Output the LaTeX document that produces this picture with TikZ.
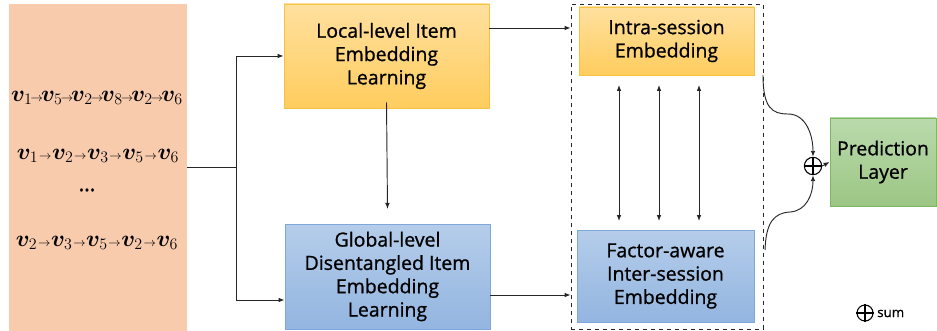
\documentclass[tikz,border=0pt]{standalone}
\usepackage{fontspec}
\usepackage{bm}
\setmainfont{Open Sans}[FakeBold=0.8]
\newfontfamily\labfont{Open Sans}[AutoFakeBold=0.9]
\usetikzlibrary{arrows.meta,shapes.geometric}
\newcommand{\sar}{\mskip0.5mu{\scriptscriptstyle\rightarrow}\mskip0.5mu}
\newcommand{\tar}{\mskip-1.5mu{\scriptscriptstyle\rightarrow}\mskip-1.5mu}
\definecolor{seqfill}{HTML}{F8CBAD}
\definecolor{orT}{HTML}{FFE09F}
\definecolor{orB}{HTML}{FFCD5E}
\definecolor{orD}{HTML}{F5C242}
\definecolor{blT}{HTML}{B5CDEA}
\definecolor{blB}{HTML}{93B5E0}
\definecolor{blD}{HTML}{7FA7DB}
\definecolor{grT}{HTML}{BADAAD}
\definecolor{grB}{HTML}{9CC684}
\definecolor{grD}{HTML}{7DB861}
\tikzset{
  box/.style={inner sep=0pt, align=center, font=\labfont\bfseries\fontsize{14.6}{17.5}\selectfont, text=black},
  orbox/.style={box, draw=orD, line width=0.6pt, top color=orT, bottom color=orB},
  blbox/.style={box, draw=blD, line width=0.6pt, top color=blT, bottom color=blB},
  grbox/.style={box, draw=grD, line width=0.6pt, top color=grT, bottom color=grB},
  conn/.style={draw=black!85, line width=0.7pt, -{Latex[length=4.5pt,width=3.5pt]}},
  dconn/.style={draw=black!85, line width=0.7pt, {Latex[length=4.5pt,width=3.5pt]}-{Latex[length=4.5pt,width=3.5pt]}},
  seq/.style={inner sep=0pt, font=\fontsize{18.5}{20}\selectfont}
}
\begin{document}
\begin{tikzpicture}[x=0.75pt,y=-0.75pt]
\useasboundingbox (0,0) rectangle (937,331);
% left sequences box
\node[fill=seqfill, minimum width=133.5pt, minimum height=245.25pt, inner sep=0pt] (src) at (98,167.5) {};
\node[seq] (s1) at (97,98) {$\bm{v}_1\tar\bm{v}_5\tar\bm{v}_2\tar\bm{v}_8\tar\bm{v}_2\tar\bm{v}_6$};
\node[seq] (s2) at (98,156) {$\bm{v}_1\sar\bm{v}_2\sar\bm{v}_3\sar\bm{v}_5\sar\bm{v}_6$};
\node[inner sep=0pt, font=\labfont\bfseries\fontsize{16}{18}\selectfont] (s3) at (87,190) {…};
\node[seq] (s4) at (97,243) {$\bm{v}_2\sar\bm{v}_3\sar\bm{v}_5\sar\bm{v}_2\sar\bm{v}_6$};
% main boxes
\node[orbox, minimum width=153.75pt, minimum height=78pt] (local) at (386.5,56) {Local-level Item\\Embedding\\Learning};
\node[blbox, minimum width=153.75pt, minimum height=78.75pt] (global) at (387.5,276.5) {Global-level\\Disentangled Item\\Embedding\\Learning};
\node[draw=black!85, dashed, line width=0.6pt, minimum width=144pt, minimum height=243.75pt, inner sep=0pt] (sess) at (667,166.5) {};
\node[orbox, minimum width=131.25pt, minimum height=51pt] (intra) at (666.5,41) {Intra-session\\Embedding};
\node[blbox, minimum width=132.75pt, minimum height=69pt] (inter) at (665.5,276) {Factor-aware\\Inter-session\\Embedding};
\node[grbox, minimum width=79.5pt, minimum height=66pt] (pred) at (883,162) {Prediction\\Layer};
\node[circle, draw=black, line width=0.8pt, minimum size=13pt, inner sep=0pt] (sum) at (813,166) {};
\draw[line width=0.8pt] (sum.north) -- (sum.south) (sum.west) -- (sum.east);
% legend
\node[circle, draw=black, line width=0.8pt, minimum size=12pt, inner sep=0pt] (lsum) at (865,313) {};
\draw[line width=0.8pt] (lsum.north) -- (lsum.south) (lsum.west) -- (lsum.east);
\node[anchor=west, inner sep=0pt, font=\labfont\bfseries\fontsize{10}{11}\selectfont] (lsumtxt) at (877,313.5) {sum};
% connectors
\coordinate (split) at (236,167);
\draw[line width=0.7pt, draw=black!85] (src.east |- split) -- (split);
\draw[conn] (split) |- (local.west);
\draw[conn] ([yshift=0pt]split) |- (global.west |- 0,300);
\draw[conn] (local.south) ++(0,-6) -- ([yshift=11pt]global.north);
\draw[conn] (local.east |- 0,28) -- (sess.west |- 0,28);
\draw[conn] (global.east |- 0,295) -- (sess.west |- 0,295);
\foreach \xx in {619,659,699} {
  \draw[dconn] (\xx,85) -- (\xx,221);
}
\coordinate (c1) at (763,75);
\coordinate (c2) at (765,250);
\draw[conn] (c1) .. controls (763,108) and (772,114) .. (788,114) .. controls (806,114) and (813,135) .. (sum.north);
\draw[conn] (c2) .. controls (766,222) and (774,213) .. (790,212) .. controls (806,211) and (813,195) .. (sum.south);
\draw[conn] (sum.east) -- (pred.west);
\end{tikzpicture}
\end{document}
